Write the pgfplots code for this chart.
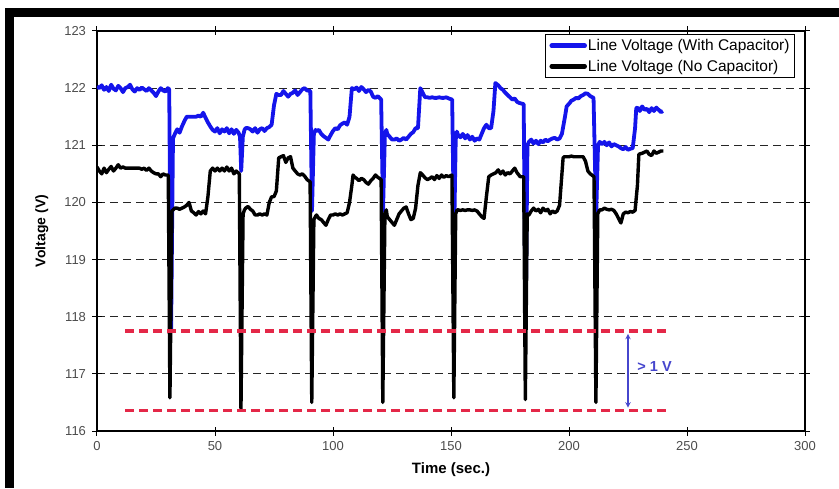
\documentclass[border=0pt]{standalone}
\usepackage{fontspec}
\setmainfont{Liberation Sans}
\usepackage{pgfplots}
\pgfplotsset{compat=1.18}

\definecolor{capblue}{RGB}{20,20,235}
\definecolor{limred}{RGB}{228,40,72}
\definecolor{annblue}{RGB}{70,70,205}

\pgfplotstableread{
x y
0 122.03
1 122.00
2 122.05
3 121.97
4 122.02
5 121.95
6 122.06
7 121.99
8 121.96
9 122.04
10 122.00
11 121.93
12 122.00
13 122.02
14 122.06
15 121.98
16 121.94
17 122.00
18 121.97
19 122.01
20 121.98
21 121.95
22 122.00
23 121.96
24 121.92
25 121.86
26 121.94
27 122.00
28 121.96
29 121.94
30 122.00
30.6 121.98
31.4 117.78
32.2 121.12
33 121.20
34 121.28
35 121.22
36 121.33
37 121.42
38 121.50
39 121.50
40 121.50
41 121.50
42 121.50
43 121.52
44 121.50
45 121.57
46 121.48
47 121.40
48 121.33
49 121.27
50 121.24
51 121.30
52 121.21
53 121.28
54 121.24
55 121.30
56 121.21
57 121.28
58 121.20
59 121.27
60 121.22
60.6 121.15
61.1 120.55
61.8 121.15
62.5 121.27
63 121.30
64 121.30
65 121.28
66 121.24
67 121.30
68 121.22
69 121.28
70 121.30
71 121.25
72 121.30
73 121.32
74 121.36
75 121.70
76 121.90
77 121.88
78 121.88
79 121.95
80 121.90
81 121.85
82 121.90
83 121.92
84 121.96
85 121.88
86 121.93
87 121.98
88 122.00
89 121.96
90.4 121.95
91.1 119.85
91.9 121.20
92.6 121.27
93 121.25
94 121.27
95 121.20
96 121.16
97 121.13
98 121.10
99 121.18
100 121.25
101 121.30
102 121.28
103 121.35
104 121.38
105 121.40
106 121.36
107 121.50
108 122.00
109 121.98
110 122.01
111 121.95
112 122.02
113 121.98
114 121.93
115 121.97
116 121.94
117 121.85
118 121.83
119 121.86
120.4 121.80
121.2 119.85
122 121.20
122.6 121.27
123 121.20
124 121.15
125 121.10
126 121.10
127 121.12
128 121.08
129 121.10
130 121.13
131 121.10
132 121.15
133 121.20
134 121.23
135 121.30
136 121.30
137 122.00
138 121.92
139 121.84
140 121.84
141 121.83
142 121.84
143 121.83
144 121.83
145 121.84
146 121.83
147 121.83
148 121.84
149 121.82
150.5 121.80
151.3 119.35
152 121.10
152.5 121.24
153 121.18
154 121.14
155 121.20
156 121.12
157 121.18
158 121.10
159 121.15
160 121.08
161 121.12
162 121.10
163 121.20
164 121.30
165 121.36
166 121.30
167 121.30
168 121.60
168.8 122.09
170 122.05
171 122.00
172 121.97
173 121.92
174 121.88
175 121.84
176 121.80
177 121.82
178 121.76
179 121.74
180.8 121.72
181.6 117.78
182.4 121.00
183 121.06
184 121.10
185 121.03
186 121.08
187 121.02
188 121.08
189 121.05
190 121.10
191 121.07
192 121.10
193 121.12
194 121.13
195 121.10
196 121.12
197 121.20
198.3 121.50
199 121.68
200.3 121.74
201 121.78
202 121.80
203 121.83
204 121.82
205 121.86
206 121.88
207 121.91
208 121.90
209 121.86
210.4 121.83
211.5 119.75
212.3 121.00
213 121.06
214 121.02
215 121.06
216 121.00
217 121.05
218 120.98
219 121.02
220 121.00
221 120.98
222 120.95
223 120.93
224 120.97
225 120.92
226 120.94
227 120.95
228 121.30
228.5 121.65
229 121.66
230 121.60
231 121.68
232 121.62
233 121.64
234 121.58
235 121.65
236 121.60
237 121.66
238 121.62
239 121.58
239.8 121.60
}\withcap

\pgfplotstableread{
x y
0 120.62
1 120.55
2 120.50
3 120.60
4 120.52
5 120.58
6 120.63
7 120.55
8 120.60
9 120.66
10 120.60
11 120.62
12 120.60
13 120.60
14 120.60
15 120.60
16 120.60
17 120.60
18 120.60
19 120.58
20 120.60
21 120.56
22 120.60
23 120.55
24 120.52
25 120.50
26 120.50
27 120.45
28 120.50
29 120.48
30.2 120.48
30.9 116.58
31.8 119.85
32.5 119.88
33 119.90
34 119.90
35 119.88
36 119.90
37 119.92
38 119.95
39 120.00
40 119.85
41 119.82
42 119.78
43 119.84
44 119.80
45 119.85
46 119.80
47 120.10
48 120.55
49 120.60
50 120.55
51 120.60
52 120.55
53 120.60
54 120.55
55 120.62
56 120.55
57 120.60
58 120.50
59 120.55
60.3 120.50
61 116.38
61.9 119.80
62.5 119.87
63 119.90
64 119.93
65 119.88
66 119.85
67 119.78
68 119.78
69 119.80
70 119.78
71 119.80
72 119.78
73 120.00
74 120.10
75 120.10
76 120.20
77 120.78
78 120.80
79 120.82
80 120.70
81 120.78
82 120.80
83 120.60
84 120.55
85 120.50
86 120.48
87 120.50
88 120.46
89 120.40
90.3 120.36
91.0 116.50
91.9 119.70
92.5 119.75
93 119.78
94 119.72
95 119.70
96 119.65
97 119.60
98 119.70
99 119.78
100 119.78
101 119.80
102 119.78
103 119.80
104 119.78
105 119.80
106 119.82
107 120.00
108 120.30
108.5 120.48
109 120.45
110 120.42
111 120.38
112 120.42
113 120.40
114 120.35
115 120.32
116 120.38
117 120.42
118 120.48
119 120.44
120.4 120.40
121.1 116.50
122 119.80
122.6 119.87
123 119.75
124 119.70
125 119.65
126 119.60
127 119.70
128 119.80
129 119.85
130 119.90
131 119.92
132 119.80
133 119.70
134 119.72
135 119.90
136 120.30
137 120.52
138 120.48
139 120.43
140 120.40
141 120.42
142 120.45
143 120.40
144 120.47
145 120.42
146 120.48
147 120.44
148 120.47
149 120.45
150.4 120.48
151.2 116.58
152 119.80
152.6 119.87
153 119.87
154 119.86
155 119.87
156 119.86
157 119.87
158 119.87
159 119.86
160 119.87
161 119.85
162 119.80
163 119.75
164 119.72
165 120.10
166 120.45
167 120.48
168 120.50
169 120.52
170 120.57
171 120.50
172 120.55
173 120.48
174 120.52
175 120.50
176 120.55
177 120.60
178 120.52
179.3 120.45
180.8 120.45
181.5 116.55
182.3 119.80
183 119.78
184 119.85
185 119.90
186 119.85
187 119.88
188 119.82
189 119.90
190 119.85
191 119.88
192 119.80
193 119.85
194 119.82
195 119.85
196 119.95
197 120.50
197.5 120.78
198 120.80
199 120.80
200 120.80
201 120.81
202 120.80
203 120.80
204 120.80
205 120.80
206 120.80
207 120.72
208 120.55
209 120.50
210.6 120.45
211.4 116.50
212.2 119.80
213 119.87
214 119.87
215 119.90
216 119.88
217 119.87
218 119.88
219 119.86
220 119.80
221 119.72
222 119.64
223 119.80
224 119.83
225 119.82
226 119.84
227 119.83
228 119.86
229 120.30
229.6 120.84
230 120.85
231 120.86
232 120.88
233 120.90
234 120.84
235 120.82
236 120.90
237 120.86
238 120.88
239 120.90
240 120.90
}\nocap

\begin{document}
\begin{tikzpicture}[x=1pt,y=1pt]
\useasboundingbox (0,0) rectangle (839,488);
% the dark frame of the screenshot
\fill[black] (5,471) rectangle (839,480);
\fill[black] (5,0) rectangle (14,480);
\begin{axis}[
  at={(97pt,57pt)}, anchor=south west,
  scale only axis, width=708pt, height=400pt,
  xmin=0, xmax=300, ymin=116, ymax=123,
  xtick={0,50,...,300}, ytick={116,...,123},
  tick align=center, major tick length=9pt,
  tick style={black, line width=1pt},
  axis line style={black, line width=1.3pt},
  ymajorgrids,
  grid style={black!85, line width=1.2pt, dash pattern=on 8pt off 5pt},
  /pgf/number format/assume math mode=true,
  ticklabel style={font=\fontsize{13}{15}\selectfont, text=black!70},
  yticklabel style={xshift=-3pt},
  xticklabel style={yshift=-2pt},
  xlabel={\textbf{Time (sec.)}},
  ylabel={\textbf{Voltage (V)}},
  xlabel style={font=\fontsize{15}{17}\selectfont, at={(axis description cs:0.5,-0.0975)}, anchor=center},
  ylabel style={font=\fontsize{14}{16}\selectfont, at={(axis description cs:-0.078,0.5)}, anchor=center},
  legend style={at={(rel axis cs:0.986,0.993)}, anchor=north east,
    draw=black, line width=1pt, fill=white,
    font=\fontsize{15.5}{18}\selectfont,
    inner xsep=4pt, inner ysep=3pt, row sep=4pt,
    nodes={inner xsep=1pt, inner ysep=2pt}},
  legend cell align=left,
  legend image code/.code={\draw[#1, line width=4.5pt, line cap=round] (0pt,0pt) -- (33pt,0pt);},
]
\addplot[capblue, line width=3.8pt, line join=round] table[x=x,y=y] {\withcap};
\addlegendentry{Line Voltage (With Capacitor)}
\addplot[black, line width=3.4pt, line join=round] table[x=x,y=y] {\nocap};
\addlegendentry{Line Voltage (No Capacitor)}
\addplot[limred, line width=3.4pt, dash pattern=on 9pt off 5pt, forget plot] coordinates {(12,117.75) (243,117.75)};
\addplot[limred, line width=3.4pt, dash pattern=on 9pt off 5pt, forget plot] coordinates {(12,116.36) (243,116.36)};
\addplot[annblue, line width=1.4pt, <->, >=stealth, forget plot] coordinates {(225,117.7) (225,116.41)};
\node[anchor=west, text=annblue, font=\fontsize{14.5}{16}\selectfont\bfseries] at (axis cs:227.5,117.12) {\textgreater\ 1 V};
\end{axis}
\end{tikzpicture}
\end{document}
